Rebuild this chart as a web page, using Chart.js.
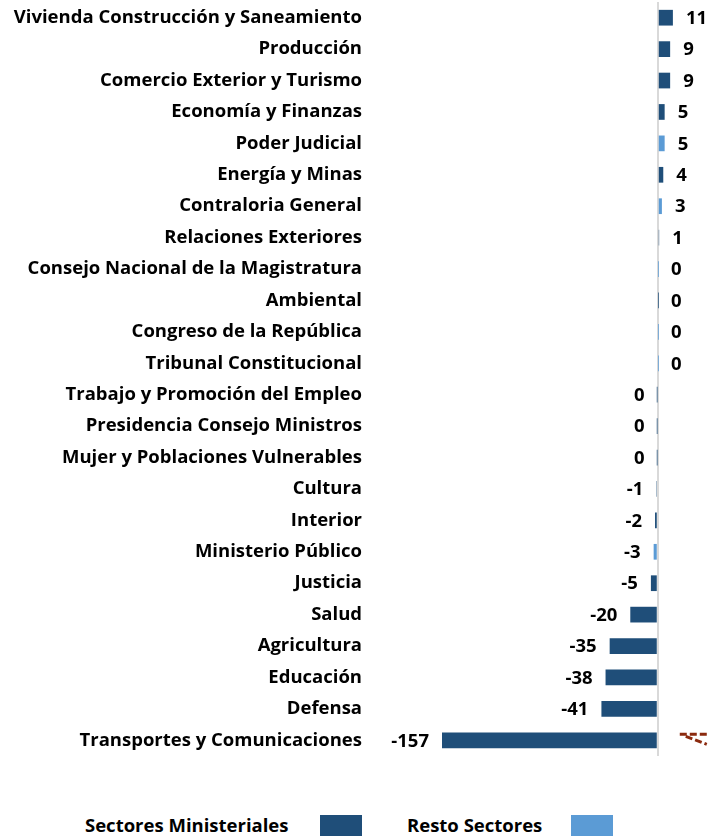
<!DOCTYPE html>
<html>
<head>
<meta charset="utf-8">
<script src="https://cdn.jsdelivr.net/npm/chart.js@4/dist/chart.umd.min.js"></script>
<style>
  body { margin: 0; background: #fff; width: 710px; height: 836px; overflow: hidden; position: relative; }
  #wrap { position: absolute; left: 0; top: 0; width: 710px; height: 760px; }
  .legend { position: absolute; top: 812px; font: bold 18.5px "Open Sans", sans-serif; color: #000; white-space: nowrap; }
  .legend span.box { position: absolute; top: 3px; width: 42px; height: 24px; }
</style>
</head>
<body>
<div id="wrap"><canvas id="chart"></canvas></div>
<div class="legend" style="left:85px">Sectores Ministeriales<span class="box" style="left:235px;background:#1F4E79"></span></div>
<div class="legend" style="left:407px">Resto Sectores<span class="box" style="left:164px;background:#5B9BD5"></span></div>
<script>
// Data
const categories = [
  'Vivienda Construcción y Saneamiento', 'Producción', 'Comercio Exterior y Turismo',
  'Economía y Finanzas', 'Poder Judicial', 'Energía y Minas', 'Contraloria General',
  'Relaciones Exteriores', 'Consejo Nacional de la Magistratura', 'Ambiental',
  'Congreso de la República', 'Tribunal Constitucional', 'Trabajo y Promoción del Empleo',
  'Presidencia Consejo Ministros', 'Mujer y Poblaciones Vulnerables', 'Cultura', 'Interior',
  'Ministerio Público', 'Justicia', 'Salud', 'Agricultura', 'Educación', 'Defensa',
  'Transportes y Comunicaciones'
];
// small non-zero values shown as "0" in the reference
const values = [11, 9, 9, 5, 5, 4, 3, 1, 0.2, 0.2, 0.2, 0.2, -0.2, -0.2, -0.2,
  -1, -2, -3, -5, -20, -35, -38, -41, -157];
// M = Sectores Ministeriales, R = Resto Sectores
const groups = ['M', 'M', 'M', 'M', 'R', 'M', 'R', 'M', 'R', 'M', 'R', 'R', 'M', 'M', 'M',
  'M', 'M', 'R', 'M', 'M', 'M', 'M', 'M', 'M'];

const colors = { M: '#1F4E79', R: '#5B9BD5' };
const FONT = '"Open Sans", sans-serif';

// value labels next to each bar end
const valueLabels = {
  id: 'valueLabels',
  afterDatasetsDraw(chart) {
    const ctx = chart.ctx;
    const meta = chart.getDatasetMeta(0);
    ctx.save();
    ctx.font = 'bold 18.5px ' + FONT;
    ctx.fillStyle = '#000';
    ctx.textBaseline = 'middle';
    meta.data.forEach((bar, i) => {
      const v = values[i];
      const txt = String(Math.round(v) || 0);
      if (v >= 0) {
        ctx.textAlign = 'left';
        ctx.fillText(txt, bar.x + 13, bar.y + 1);
      } else {
        ctx.textAlign = 'right';
        ctx.fillText(txt, bar.x - 13, bar.y + 1);
      }
    });
    // small dashed mark beside the last bar
    const last = meta.data[meta.data.length - 1];
    const x0 = chart.scales.x.getPixelForValue(0);
    ctx.strokeStyle = '#8B2A0E';
    ctx.lineWidth = 3;
    ctx.setLineDash([7, 3]);
    ctx.beginPath();
    ctx.moveTo(x0 + 22, last.y - 6);
    ctx.lineTo(x0 + 52, last.y - 6);
    ctx.moveTo(x0 + 28, last.y - 4);
    ctx.lineTo(x0 + 49, last.y + 4);
    ctx.stroke();
    ctx.restore();
  }
};

new Chart(document.getElementById('chart').getContext('2d'), {
  type: 'bar',
  data: {
    labels: categories,
    datasets: [{
      data: values,
      backgroundColor: groups.map(g => colors[g]),
      borderWidth: 0,
      barPercentage: 0.5,
      categoryPercentage: 1
    }]
  },
  options: {
    indexAxis: 'y',
    responsive: true,
    maintainAspectRatio: false,
    animation: false,
    layout: { padding: { top: 2, bottom: 4, left: 0, right: 0 } },
    plugins: { legend: { display: false }, tooltip: { enabled: false } },
    scales: {
      x: {
        min: -157,
        max: 38,
        ticks: { display: false },
        border: { display: false },
        grid: {
          drawTicks: false,
          color: c => (c.tick && c.tick.value === 0 ? '#D9D9D9' : 'transparent'),
          lineWidth: 2
        }
      },
      y: {
        grid: { display: false, drawTicks: false },
        border: { display: false },
        ticks: { color: '#000', font: { family: FONT, size: 18.5, weight: 'bold' }, padding: 80, autoSkip: false },
        afterFit: s => { s.width = 442; s.paddingTop = 0; s.paddingBottom = 0; }
      }
    }
  },
  plugins: [valueLabels]
});
</script>
</body>
</html>
